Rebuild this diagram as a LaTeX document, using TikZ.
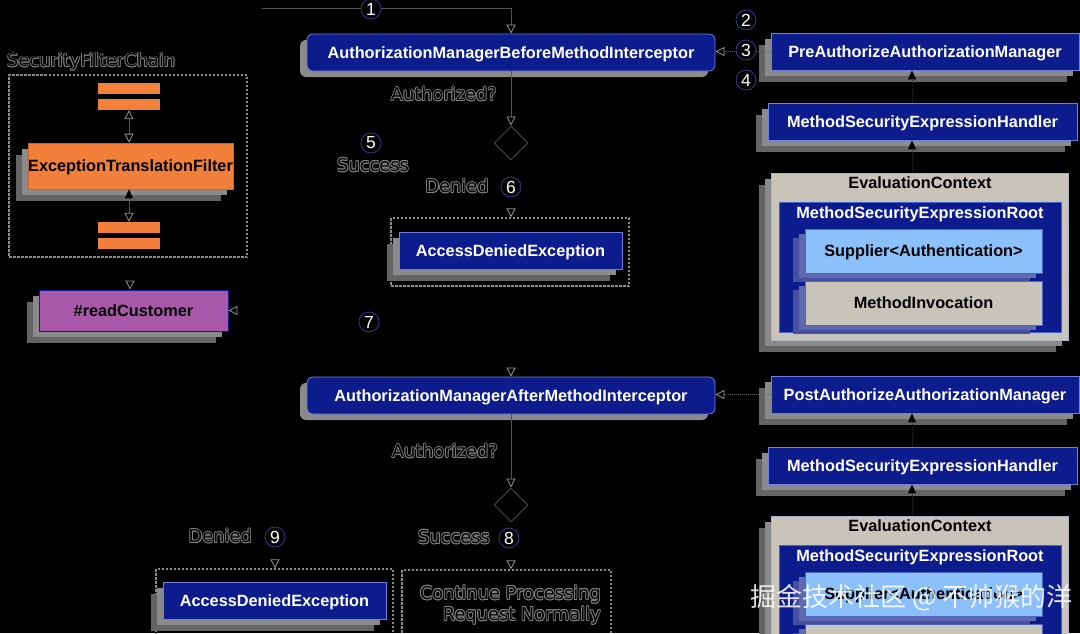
\documentclass[tikz,border=0pt]{standalone}
\usepackage{fontspec}
\setmainfont{Liberation Sans}
\newfontfamily\dvs{DejaVu Sans}
\newfontfamily\cjkfont{Noto Sans CJK SC}
\usetikzlibrary{arrows.meta,shapes.geometric,calc}
\definecolor{navy}{RGB}{12,28,140}
\definecolor{navyedge}{RGB}{110,130,220}
\definecolor{orng}{RGB}{242,128,58}
\definecolor{purp}{RGB}{168,88,168}
\definecolor{beige}{RGB}{200,196,186}
\definecolor{ltblue}{RGB}{140,192,250}
\definecolor{shA}{RGB}{138,138,138}
\definecolor{shB}{RGB}{100,100,100}
\definecolor{shbA}{RGB}{95,105,175}
\definecolor{shbB}{RGB}{70,80,160}
\definecolor{linevis}{RGB}{85,85,85}
\definecolor{tipc}{RGB}{150,150,150}
\definecolor{dashc}{RGB}{140,140,140}
\definecolor{olg}{RGB}{130,130,130}
\definecolor{badgeedge}{RGB}{55,55,140}
\newcommand\olcp[3]{\rlap{\kern#1\raise#2\hbox{\color{olg}#3}}}
\newcommand\oltxt[1]{\olcp{-.85pt}{0pt}{#1}\olcp{.85pt}{0pt}{#1}\olcp{0pt}{.85pt}{#1}\olcp{0pt}{-.85pt}{#1}%
 \olcp{-.6pt}{.6pt}{#1}\olcp{.6pt}{.6pt}{#1}\olcp{-.6pt}{-.6pt}{#1}\olcp{.6pt}{-.6pt}{#1}%
 \hbox{\color{black}#1}}
% two stacked grey shadows: cx cy w h
\newcommand\shtwo[4]{%
 \fill[shB] (#1-12-#3/2,#2+12-#4/2) rectangle (#1-12+#3/2,#2+12+#4/2);
 \fill[shA] (#1-6-#3/2,#2+6-#4/2) rectangle (#1-6+#3/2,#2+6+#4/2);}
\newcommand\shblue[4]{%
 \fill[shbB] (#1-12-#3/2,#2+9-#4/2) rectangle (#1-12+#3/2,#2+9+#4/2);
 \fill[shbA] (#1-6-#3/2,#2+5-#4/2) rectangle (#1-6+#3/2,#2+5+#4/2);}
\newcommand\shround[4]{%
 \fill[shA, rounded corners=6pt] (#1-7-#3/2,#2+6-#4/2) rectangle (#1-7+#3/2,#2+6+#4/2);}
\tikzset{
 bfont/.style={font=\fontsize{16.3}{18}\selectfont\bfseries, text height=11.7pt, text depth=0pt},
 navybox/.style={bfont, draw=navyedge, line width=0.8pt, fill=navy, text=white, inner sep=0pt},
 icpt/.style={navybox, rounded corners=6pt, minimum width=408pt, minimum height=37pt},
 mgr/.style={navybox, minimum width=308pt, minimum height=37pt},
 hdl/.style={navybox, minimum width=309pt, minimum height=37pt},
 adebox/.style={navybox, minimum width=223pt, minimum height=37pt},
 evalbox/.style={draw={rgb,255:red,175;green,178;blue,200}, line width=0.8pt, fill=beige, minimum width=297pt, minimum height=167pt, inner sep=0pt},
 rootbox/.style={draw={rgb,255:red,70;green,95;blue,205}, line width=0.8pt, fill=navy, minimum width=282pt, minimum height=130pt, inner sep=0pt},
 supbox/.style={bfont, draw={rgb,255:red,80;green,100;blue,200}, line width=0.6pt, fill=ltblue, text=black, minimum width=237pt, minimum height=44pt, inner sep=0pt},
 mibox/.style={bfont, draw={rgb,255:red,80;green,100;blue,200}, line width=0.6pt, fill=beige, text=black, minimum width=237pt, minimum height=44pt, inner sep=0pt},
 titletxt/.style={font=\fontsize{16.3}{18}\selectfont\bfseries, inner sep=0pt, anchor=base},
 bar/.style={fill=orng, minimum width=62pt, minimum height=11pt, inner sep=0pt},
 dashbox/.style={draw=dashc, line width=1.3pt, dash pattern=on 2.5pt off 1.5pt, inner sep=0pt},
 badge/.style={circle, draw=badgeedge, line width=0.8pt, fill=black, text=white, minimum size=20pt, inner sep=0pt, font=\fontsize{17.5}{17.5}\selectfont},
 olab/.style={font=\dvs\fontsize{17.8}{20}\selectfont, inner sep=0pt},
 dec/.style={diamond, draw={rgb,255:red,75;green,75;blue,75}, line width=0.9pt, minimum width=34pt, minimum height=34pt, inner sep=0pt},
 vis/.style={draw=linevis, line width=0.9pt},
 blk/.style={draw=black, line width=0.9pt},
 dotl/.style={draw={rgb,255:red,95;green,95;blue,95}, line width=0.9pt, dash pattern=on 1pt off 1pt},
 opentip/.tip={Triangle[open, color=tipc, length=9pt, width=9pt, line width=0.8pt]},
 solidtip/.tip={Triangle[color=black, length=9pt, width=8pt]},
}
\begin{document}
\begin{tikzpicture}[x=1pt,y=-1pt]
\useasboundingbox (0,0) rectangle (1080,633);
\fill[black] (0,0) rectangle (1080,633);
\begin{scope}
\clip (0,0) rectangle (1080,633);

% ---------- left: security filter chain ----------
\node[olab, anchor=west] (sfcl) at (7,62) {\oltxt{SecurityFilterChain}};
\node[dashbox, minimum width=238pt, minimum height=182pt] (chain) at (128,166) {};
\node[bar] (top1) at (129,88.5) {};
\node[bar] (top2) at (129,104.5) {};
\shtwo{130.5}{166}{205}{46}
\node[bfont, draw={rgb,255:red,200;green,100;blue,40}, line width=0.6pt, fill=orng, text=black, minimum width=205pt, minimum height=46pt, inner sep=0pt] (etf) at (130.5,166) {ExceptionTranslationFilter};
\node[bar] (bot1) at (129,227.5) {};
\node[bar] (bot2) at (129,243.5) {};
\draw[vis, {opentip}-{opentip}] (top2.south) -- (top2.south |- etf.north);
\draw[vis, {solidtip}-{opentip}] (bot1.north |- etf.south) -- (bot1.north);

\shtwo{133.5}{310.5}{189}{41}
\node[bfont, draw=navy, line width=0.8pt, fill=purp, text=black, minimum width=189pt, minimum height=41pt, inner sep=0pt] (rc) at (133.5,310.5) {\#readCustomer};
\draw[blk, -{opentip}] (chain.south -| 130,0) -- (rc.north -| 130,0);

% ---------- central column ----------
\coordinate (start) at (262,8);
\shround{511}{52.5}{408}{37}
\node[icpt] (before) at (511,52.5) {AuthorizationManagerBeforeMethodInterceptor};
\draw[vis, -{opentip}] (start) -| (before.north);
\node[badge] (b1) at (371,9) {1};

\node[dec] (d1) at (511,143) {};
\draw[vis, -{opentip}] (before.south) -- (d1.north);
\node[olab, anchor=east] (auth1) at (497,94) {\oltxt{Authorized?}};

\node[dashbox, minimum width=238pt, minimum height=68pt] (adeframe) at (510,252) {};
\shtwo{510.5}{250.5}{223}{37}
\node[adebox] (ade1) at (510.5,250.5) {AccessDeniedException};
\draw[blk, -{opentip}] (d1.south) -- (adeframe.north -| d1.south);
\node[olab] (den1) at (457,186) {\oltxt{Denied}};
\node[badge] (b6) at (511,187) {6};

\draw[blk, -{opentip}] (d1.west) -- (275,143) |- (rc.east);
\node[badge] (b5) at (371,143) {5};
\node[olab] (suc1) at (373,165) {\oltxt{Success}};

\shround{511}{395.5}{408}{37}
\node[icpt] (after) at (511,395.5) {AuthorizationManagerAfterMethodInterceptor};
\draw[blk, -{opentip}] ([yshift=-11pt]rc.east) -| (after.north);
\node[badge] (b7) at (369,322) {7};

\node[dec] (d2) at (511,505) {};
\draw[vis, -{opentip}] (after.south) -- (d2.north);
\node[olab, anchor=east] (auth2) at (498,451) {\oltxt{Authorized?}};

\node[dashbox, minimum width=209pt, minimum height=90pt] (contframe) at (506.5,615) {};
\node[olab, anchor=north east, align=right] (cont) at (601,585) {\oltxt{Continue Processing}\\[1pt]\oltxt{Request Normally}};
\draw[blk, -{opentip}] (d2.south) -- (contframe.north -| d2.south);
\node[olab, anchor=east] (suc2) at (490,537) {\oltxt{Success}};
\node[badge] (b8) at (509,538) {8};

\node[dashbox, minimum width=237pt, minimum height=90pt] (ade2frame) at (274.5,614) {};
\shtwo{274.5}{600.5}{223}{37}
\node[adebox] (ade2) at (274.5,600.5) {AccessDeniedException};
\draw[blk, -{opentip}] (d2.west) -- (275,505) -- (ade2frame.north -| 275,0);
\node[olab, anchor=east] (den2) at (252,536) {\oltxt{Denied}};
\node[badge] (b9) at (275,537) {9};

% ---------- right column, pre ----------
\coordinate (ax) at (912,0);
\shtwo{925}{51.5}{308}{37}
\node[mgr] (pre) at (925,51.5) {PreAuthorizeAuthorizationManager};
\draw[dotl, -{opentip}] (pre.west) -- (before.east |- pre.west);
\node[badge] (b2) at (746,20) {2};
\node[badge] (b3) at (746,50) {3};
\node[badge] (b4) at (746,80) {4};

\shtwo{922.5}{121.5}{309}{37}
\node[hdl] (mseh1) at (922.5,121.5) {MethodSecurityExpressionHandler};

\shtwo{919.5}{256.5}{297}{167}
\node[evalbox] (eval1) at (919.5,256.5) {};
\node[titletxt, text=black] (evt1) at (920,188) {EvaluationContext};
\node[rootbox] (root1) at (920,267) {};
\node[titletxt, text=white] (rtt1) at (920,218.5) {MethodSecurityExpressionRoot};
\shblue{923.5}{251}{237}{44}
\shblue{923.5}{303}{237}{44}
\node[supbox] (sup1) at (923.5,251) {Supplier<Authentication>};
\node[mibox] (mi1) at (923.5,303) {MethodInvocation};
\draw[draw={rgb,255:red,40;green,40;blue,40}, line width=0.9pt, dash pattern=on 1pt off 1pt, -{solidtip}] (mseh1.north -| ax) -- (pre.south -| ax);
\draw[draw={rgb,255:red,40;green,40;blue,40}, line width=0.9pt, dash pattern=on 1pt off 1pt, -{solidtip}] (eval1.north -| ax) -- (mseh1.south -| ax);

% ---------- right column, post ----------
\shtwo{925}{394.5}{308}{37}
\node[mgr] (post) at (925,394.5) {PostAuthorizeAuthorizationManager};
\draw[dotl, -{opentip}] (post.west) -- (after.east |- post.west);

\shtwo{922.5}{465.5}{309}{37}
\node[hdl] (mseh2) at (922.5,465.5) {MethodSecurityExpressionHandler};

\shtwo{919.5}{599.5}{297}{167}
\node[evalbox] (eval2) at (919.5,599.5) {};
\node[titletxt, text=black] (evt2) at (920,531) {EvaluationContext};
\node[rootbox] (root2) at (920,610) {};
\node[titletxt, text=white] (rtt2) at (920,561.5) {MethodSecurityExpressionRoot};
\shblue{923.5}{594}{237}{44}
\shblue{923.5}{646}{237}{44}
\node[supbox] (sup2) at (923.5,594) {Supplier<Authentication>};
\node[mibox] (mi2) at (923.5,646) {MethodInvocation};
\draw[draw={rgb,255:red,40;green,40;blue,40}, line width=0.9pt, dash pattern=on 1pt off 1pt, -{solidtip}] (mseh2.north -| ax) -- (post.south -| ax);
\draw[draw={rgb,255:red,40;green,40;blue,40}, line width=0.9pt, dash pattern=on 1pt off 1pt, -{solidtip}] (eval2.north -| ax) -- (mseh2.south -| ax);

% watermark
\node[font=\cjkfont\fontsize{26}{28}\selectfont, text=white, opacity=0.88, anchor=west, inner sep=0pt] (wm) at (750,598) {掘金技术社区 @ 不帅猴的洋};
\end{scope}
\end{tikzpicture}
\end{document}
